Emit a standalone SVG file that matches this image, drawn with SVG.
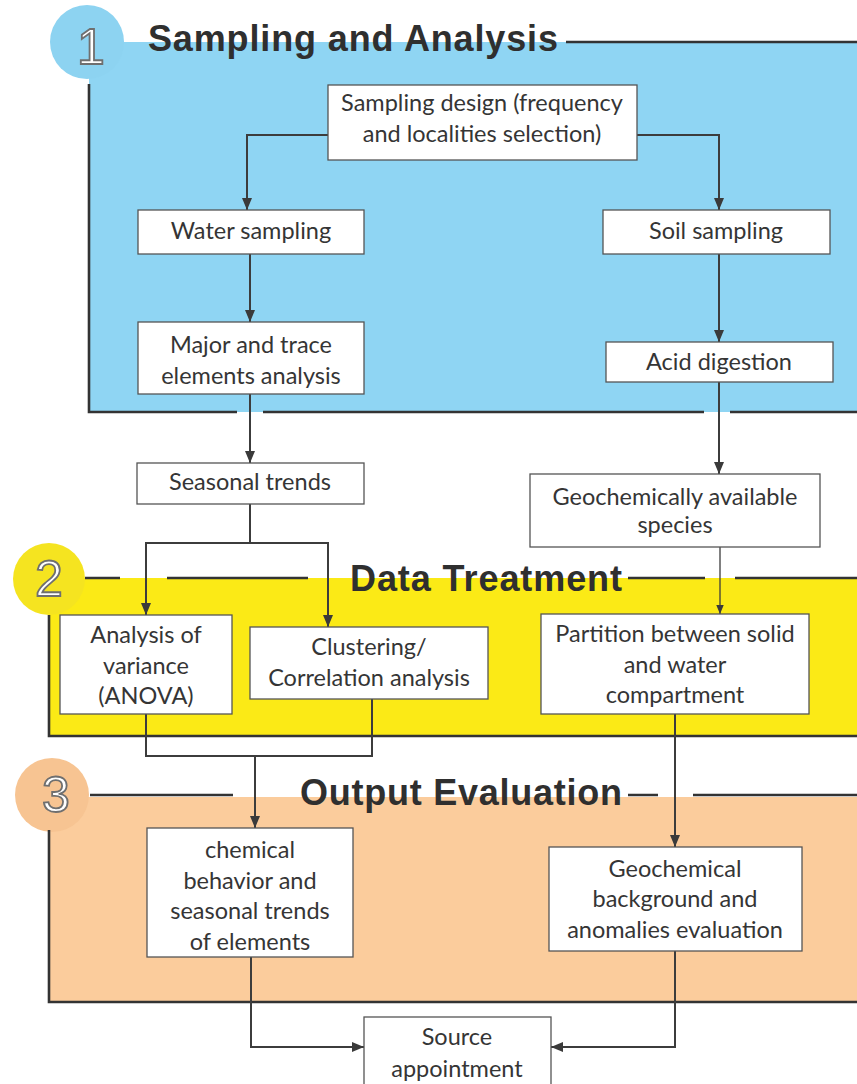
<svg xmlns="http://www.w3.org/2000/svg" width="857" height="1084" viewBox="0 0 857 1084">
<style>
.box{fill:#ffffff;stroke:#555555;stroke-width:1.3}
.t{font-family:Lato,"Open Sans",sans-serif;font-size:23.5px;fill:#353535;text-anchor:middle}
.title{font-family:"Liberation Sans",Arial,sans-serif;font-weight:bold;font-size:36px;fill:#2f2f2f}
.num{font-family:"Liberation Sans",Arial,sans-serif;font-size:50px;fill:#ffffff;stroke:#6f6f6f;stroke-width:1.8;text-anchor:middle}
.sb{fill:none;stroke:#333333;stroke-width:2.6}
.con{fill:none;stroke:#3c3c3c;stroke-width:2}
</style>
<defs>
<marker id="ah" viewBox="0 0 12 10" refX="12" refY="5" markerWidth="12" markerHeight="10" markerUnits="userSpaceOnUse" orient="auto"><path d="M0,0 L12,5 L0,10 z" fill="#3a3a3a"/></marker>
<marker id="ahs" viewBox="0 0 12 10" refX="12" refY="5" markerWidth="9" markerHeight="8" markerUnits="userSpaceOnUse" orient="auto"><path d="M0,0 L12,5 L0,10 z" fill="#3a3a3a"/></marker>
</defs>
<rect width="857" height="1084" fill="#ffffff"/>

<g id="section1">
<rect x="89" y="42" width="768" height="370" fill="#8fd5f3"/>
<circle cx="87" cy="42" r="37" fill="#8dd3f1"/>
<text class="num" x="91" y="64">1</text>
<text class="title" x="148" y="51" textLength="410" lengthAdjust="spacing">Sampling and Analysis</text>
<path class="sb" d="M566,42 H857 M89,84 V412 H237 M263,412 H704 M730,412 H857"/>
</g>

<g id="section2">
<rect x="49" y="578" width="808" height="158" fill="#fbea16"/>
<circle cx="49" cy="579" r="36" fill="#f5e420"/>
<text class="num" x="49" y="596">2</text>
<text class="title" x="350" y="591" textLength="272" lengthAdjust="spacing">Data Treatment</text>
<path class="sb" d="M85,578 H120 M167,578 H308 M628,578 H705 M735,578 H857 M49,615 V736 H857"/>
</g>

<g id="section3">
<rect x="49" y="797" width="808" height="205" fill="#fbcc9c"/>
<circle cx="52" cy="795" r="37" fill="#f7c492"/>
<text class="num" x="56" y="812">3</text>
<text class="title" x="300" y="805" textLength="322" lengthAdjust="spacing">Output Evaluation</text>
<path class="sb" d="M90,795 H233 M628,795 H658 M693,795 H857 M49,830 V1002 H857"/>
</g>

<g id="connectors">
<path class="con" d="M328,135 H247 V210" marker-end="url(#ah)"/>
<path class="con" d="M637,135 H719 V210" marker-end="url(#ah)"/>
<path class="con" d="M250,254 V322" marker-end="url(#ah)"/>
<path class="con" d="M719,254 V342" marker-end="url(#ah)"/>
<path class="con" d="M250,394 V463" marker-end="url(#ah)"/>
<path class="con" d="M719,382 V474" marker-end="url(#ah)"/>
<path class="con" d="M250,504 V543 H146 V615" marker-end="url(#ah)"/>
<path class="con" d="M250,543 H328 V627" marker-end="url(#ah)"/>
<path class="con" d="M720,547 V614" style="stroke-width:1.3" marker-end="url(#ahs)"/>
<path class="con" d="M146,714 V756 H372 V699"/>
<path class="con" d="M255,756 V828" marker-end="url(#ah)"/>
<path class="con" d="M675,714 V847" marker-end="url(#ah)"/>
<path class="con" d="M251,957 V1047 H364" marker-end="url(#ah)"/>
<path class="con" d="M675,951 V1047 H551" marker-end="url(#ah)"/>
</g>

<g id="n-design">
<rect class="box" x="328" y="85" width="309" height="75"/>
<text class="t" x="482" y="111">Sampling design (frequency</text>
<text class="t" x="482" y="142">and localities selection)</text>
</g>
<g id="n-water">
<rect class="box" x="138" y="210" width="226" height="44"/>
<text class="t" x="251" y="239">Water sampling</text>
</g>
<g id="n-soil">
<rect class="box" x="603" y="210" width="227" height="44"/>
<text class="t" x="716" y="239">Soil sampling</text>
</g>
<g id="n-major">
<rect class="box" x="138" y="322" width="226" height="72"/>
<text class="t" x="251" y="353">Major and trace</text>
<text class="t" x="251" y="384">elements analysis</text>
</g>
<g id="n-acid">
<rect class="box" x="606" y="342" width="227" height="40"/>
<text class="t" x="719" y="370">Acid digestion</text>
</g>
<g id="n-seasonal">
<rect class="box" x="137" y="463" width="227" height="41"/>
<text class="t" x="250" y="490">Seasonal trends</text>
</g>
<g id="n-geospecies">
<rect class="box" x="530" y="474" width="290" height="73"/>
<text class="t" x="675" y="505">Geochemically available</text>
<text class="t" x="675" y="533">species</text>
</g>
<g id="n-anova">
<rect class="box" x="60" y="615" width="172" height="99"/>
<text class="t" x="146" y="643">Analysis of</text>
<text class="t" x="146" y="674">variance</text>
<text class="t" x="146" y="704">(ANOVA)</text>
</g>
<g id="n-cluster">
<rect class="box" x="250" y="627" width="238" height="72"/>
<text class="t" x="369" y="655">Clustering/</text>
<text class="t" x="369" y="686">Correlation analysis</text>
</g>
<g id="n-partition">
<rect class="box" x="541" y="614" width="268" height="100"/>
<text class="t" x="675" y="642">Partition between solid</text>
<text class="t" x="675" y="673">and water</text>
<text class="t" x="675" y="703">compartment</text>
</g>
<g id="n-chemical">
<rect class="box" x="147" y="828" width="206" height="129"/>
<text class="t" x="250" y="858">chemical</text>
<text class="t" x="250" y="889">behavior and</text>
<text class="t" x="250" y="919">seasonal trends</text>
<text class="t" x="250" y="950">of elements</text>
</g>
<g id="n-background">
<rect class="box" x="549" y="847" width="253" height="104"/>
<text class="t" x="675" y="877">Geochemical</text>
<text class="t" x="675" y="907">background and</text>
<text class="t" x="675" y="938">anomalies evaluation</text>
</g>
<g id="n-source">
<rect class="box" x="364" y="1017" width="187" height="80"/>
<text class="t" x="457" y="1045">Source</text>
<text class="t" x="457" y="1077">appointment</text>
</g>
</svg>
